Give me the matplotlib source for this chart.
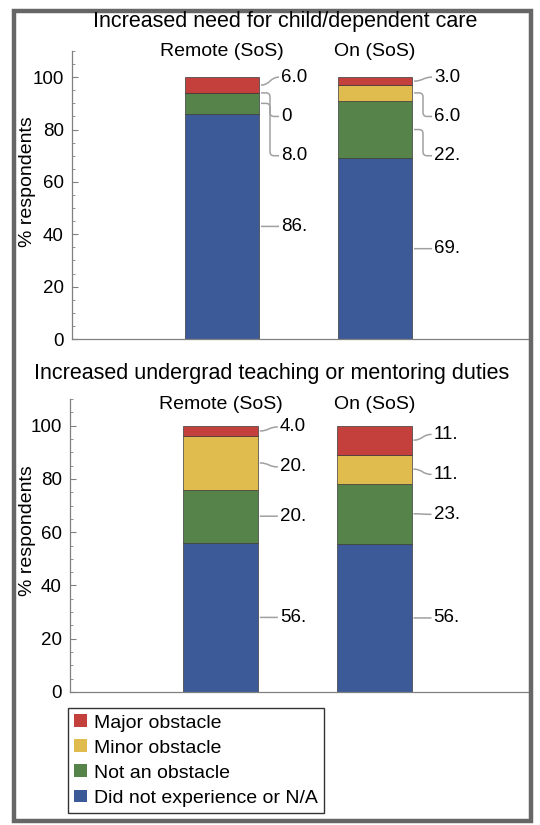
import numpy as np
import matplotlib
matplotlib.use('Agg')
from matplotlib import pyplot as plt
from matplotlib.patches import Rectangle, Patch
from matplotlib.path import Path
from matplotlib.patches import PathPatch
from matplotlib.ticker import MultipleLocator
import matplotlib.transforms as mtransforms

plt.rcParams['font.family'] = ['Liberation Sans', 'DejaVu Sans']

# data
groups = ['Remote (SoS)', 'On (SoS)']
series = ['Did not experience or N/A', 'Not an obstacle', 'Minor obstacle', 'Major obstacle']
colors = ['#3d5a98', '#55834a', '#e0bc4e', '#c4403d']

titles = ['Increased need for child/dependent care',
          'Increased undergrad teaching or mentoring duties']

# rows: groups, columns: series (bottom -> top)
care_vals = [[86, 8, 0, 6],
             [69, 22, 6, 3]]
teach_vals = [[56, 20, 20, 4],
              [55.6, 22.6, 10.9, 10.9]]
panel_vals = [care_vals, teach_vals]


def fmt(v):
    # mimic the Mathematica style of the labels
    if v == 0:
        return '0'
    if v < 10:
        return '%.1f' % v
    return '%d.' % int(round(v))


def spread(mids, gap, top):
    # mids ordered top -> bottom; merge overlapping labels into centred clusters
    clusters = [[m] for m in mids]
    changed = True
    while changed:
        changed = False
        pos = []
        for c in clusters:
            centre = np.mean(c) + gap * (len(c) - 1) / 2.
            pos.append([centre - gap * k for k in range(len(c))])
        for i in range(len(clusters) - 1):
            if pos[i][-1] - pos[i + 1][0] < gap:
                clusters[i] = clusters[i] + clusters[i + 1]
                del clusters[i + 1]
                changed = True
                break
    pos = [p for c in pos for p in c]
    if pos[0] > top:
        pos[0] = top
    for i in range(1, len(pos)):
        pos[i] = min(pos[i], pos[i - 1] - gap)
    return pos


def callout(ax, x0, xv, x3, y0, y1, rx, ry):
    if abs(y1 - y0) < 2 * ry:
        verts = [(x0, y0), (xv, y0), (xv, y1), (x3, y1)]
        codes = [Path.MOVETO, Path.CURVE4, Path.CURVE4, Path.CURVE4]
    else:
        s = np.sign(y1 - y0)
        verts = [(x0, y0), (xv - rx, y0),
                 (xv, y0), (xv, y0 + s * ry),
                 (xv, y1 - s * ry),
                 (xv, y1), (xv + rx, y1),
                 (x3, y1)]
        codes = [Path.MOVETO, Path.LINETO,
                 Path.CURVE3, Path.CURVE3,
                 Path.LINETO,
                 Path.CURVE3, Path.CURVE3,
                 Path.LINETO]
    ax.add_patch(PathPatch(Path(verts, codes), fill=False, edgecolor='#a0a0a0', lw=1.1,
                           clip_on=False))


fig = plt.figure(figsize=(5.4, 8.25), dpi=100)
W, H = 540., 825.

axes_px = [(72, 528, 51, 339), (70, 528, 399, 692)]
title_px = [(285, 22), (272, 374)]
ylabel_y = [182, 531]
catlab_y = [52, 404]

x = np.array([1, 2])
bw = 0.484

for k in range(2):
    l, r, t, b = axes_px[k]
    ax = fig.add_axes([l / W, 1 - b / H, (r - l) / W, (b - t) / H])
    vals = np.array(panel_vals[k], dtype=float)
    bottoms = np.zeros(len(groups))
    for j in range(len(series)):
        ax.bar(x, vals[:, j], bw, bottom=bottoms, color=colors[j],
               edgecolor='#3a3a3a', linewidth=0.5)
        bottoms += vals[:, j]

    ax.set_xlim(0.02, 3.0)
    ax.set_ylim(0, 110)
    ax.set_yticks([0, 20, 40, 60, 80, 100])
    ax.yaxis.set_minor_locator(MultipleLocator(5))
    ax.set_xticks([])
    ax.tick_params(axis='y', which='major', direction='in', length=4, width=0.8,
                   color='#808080', labelsize=13.5, pad=6)
    ax.tick_params(axis='y', which='minor', direction='in', length=2.5, width=0.6,
                   color='#808080')
    for sp in ['top', 'right']:
        ax.spines[sp].set_visible(False)
    for sp in ['left', 'bottom']:
        ax.spines[sp].set_color('#808080')
        ax.spines[sp].set_linewidth(0.9)

    # pixel scales for the callouts
    px_x = (r - l) / (3.0 - 0.02)
    px_y = (b - t) / 110.
    gap = 15.0
    for i in range(len(groups)):
        tops = np.cumsum(vals[i])
        mids = tops - vals[i] / 2.
        order = list(range(len(series)))[::-1]
        m = [mids[j] for j in order]
        pos = spread(m, gap, 100)
        edge = x[i] + bw / 2.
        for j, yl in zip(order, pos):
            callout(ax, edge + 2 / px_x, edge + 11 / px_x, edge + 20 / px_x,
                    mids[j], yl, 4 / px_x, 4 / px_y)
            ax.text(edge + 22 / px_x, yl, fmt(vals[i, j]), fontsize=13.5,
                    va='center', ha='left')

    trans = mtransforms.blended_transform_factory(ax.transData, fig.transFigure)
    for i, g in enumerate(groups):
        ax.text(x[i], 1 - catlab_y[k] / H, g, fontsize=14, ha='center',
                va='center', transform=trans)

    fig.text(title_px[k][0] / W, 1 - title_px[k][1] / H, titles[k], fontsize=15.5,
             ha='center', va='center')
    fig.text(27 / W, 1 - ylabel_y[k] / H, '% respondents', fontsize=14,
             rotation=90, ha='center', va='center')

handles = [Patch(facecolor=colors[j], edgecolor='none') for j in range(len(series))][::-1]
leg = fig.legend(handles, series[::-1], loc='upper left',
                 bbox_to_anchor=(68 / W, 1 - 708 / H), borderaxespad=0,
                 fontsize=14, frameon=True, fancybox=False, edgecolor='black',
                 handlelength=0.65, handleheight=0.65, handletextpad=0.35,
                 labelspacing=0.4, borderpad=0.32)
leg.get_frame().set_linewidth(1.0)

fig.add_artist(Rectangle((13.5 / W, 1 - 820.5 / H), (531 - 13.5) / W, (820.5 - 10.5) / H,
                         transform=fig.transFigure, fill=False,
                         edgecolor='#666666', lw=3.2))

fig.savefig('out.png', dpi=100)
